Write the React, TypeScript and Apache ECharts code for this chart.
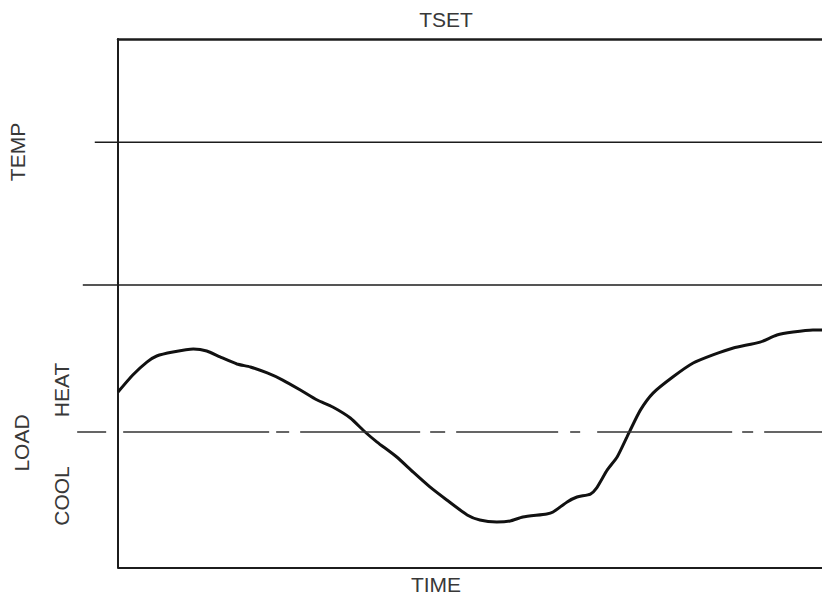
import React, { useEffect, useRef } from "react";
import * as echarts from "echarts";

// Load curve (time in % of span, load in % of full cooling; 0 = balance line)
const loadTime = [0, 2.1, 4.1, 5.5, 7.8, 10.7, 12.6, 14.5, 16.9, 18.8, 21.2, 23.4, 25.9, 28.3, 30.5, 33.0, 35.1, 36.8, 39.6, 41.9, 44.3, 46.7, 49.6, 51.4, 53.8, 55.7, 57.5, 60.9, 61.8, 63.8, 65.2, 67.1, 68.0, 69.5, 70.9, 72.3, 72.7, 74.2, 76.0, 78.8, 81.7, 84.5, 87.4, 91.2, 93.6, 95.9, 98.7, 100];
const loadValue = [29.4, 41.9, 51.4, 55.9, 58.8, 61.0, 59.6, 55.2, 50.0, 47.8, 43.4, 38.2, 30.9, 23.5, 18.4, 10.3, 0, -7.4, -18.4, -29.4, -40.4, -50.0, -61.0, -64.7, -66.1, -65.4, -62.5, -60.3, -58.8, -51.4, -47.8, -45.6, -41.1, -27.9, -18.4, -3.6, 0.7, 16.1, 28.6, 40.4, 50.7, 56.7, 61.8, 66.1, 71.3, 73.5, 75.0, 75.0];

// Temperature panel levels
const tsetLevel = 100;
const tempLevel = 58;
const tempTime = [-3.3, 100];
const tempBaseStart = -5;
const balanceStart = -5.8;
const loadFloor = -100;
const loadMax = 110;

const labels = { title: "TSET", time: "TIME", temp: "TEMP", load: "LOAD", heat: "HEAT", cool: "COOL" };

export default function App() {
  const ref = useRef<HTMLDivElement>(null);
  useEffect(() => {
    if (!ref.current) return;
    const chart = echarts.init(ref.current, null, { renderer: "svg" });
    const ink = "#1c1c1c";
    const font = "'Liberation Sans', Arial, sans-serif";
    const txt = (text: string, x: number, y: number, rot = 0) => ({
      type: "text",
      x,
      y,
      rotation: rot,
      style: { text, fill: "#383838", font: `21px ${font}`, align: "center", verticalAlign: "middle" },
    });
    const axisCommon = {
      type: "value",
      splitLine: { show: false },
      axisTick: { show: false },
      axisLabel: { show: false },
    };
    chart.setOption({
      animation: false,
      backgroundColor: "#fff",
      grid: [
        { left: 75.76, right: 0, top: 39, height: 246 },
        { left: 75.76, right: 0, top: 282.4, height: 285.6 },
      ],
      xAxis: [
        { ...axisCommon, gridIndex: 0, min: -6, max: 100, axisLine: { show: false } },
        { ...axisCommon, gridIndex: 1, min: -6, max: 100, axisLine: { show: false } },
      ],
      yAxis: [
        { ...axisCommon, gridIndex: 0, min: 0, max: 100, axisLine: { show: true, onZero: true, lineStyle: { color: ink, width: 2 } } },
        { ...axisCommon, gridIndex: 1, min: loadFloor, max: loadMax, axisLine: { show: true, onZero: true, lineStyle: { color: ink, width: 2 } } },
      ],
      series: [
        {
          type: "line",
          xAxisIndex: 0,
          yAxisIndex: 0,
          clip: false,
          symbol: "none",
          silent: true,
          lineStyle: { color: ink, width: 1.5 },
          data: tempTime.map((t) => [t, tempLevel]),
          markLine: {
            silent: true,
            symbol: "none",
            label: { show: false },
            data: [
              [
                { coord: [0, tsetLevel], lineStyle: { color: ink, width: 2.5, type: "solid", cap: "round" } },
                { coord: [100, tsetLevel] },
              ],
              [
                { coord: [tempBaseStart, 0], lineStyle: { color: ink, width: 1.5, type: "solid" } },
                { coord: [100, 0] },
              ],
            ],
          },
        },
        {
          type: "line",
          xAxisIndex: 1,
          yAxisIndex: 1,
          clip: false,
          symbol: "none",
          silent: true,
          smooth: 0.2,
          lineStyle: { color: "#111", width: 3 },
          data: loadTime.map((t, i) => [t, loadValue[i]]),
          markLine: {
            silent: true,
            symbol: "none",
            label: { show: false },
            data: [
              [
                {
                  coord: [balanceStart, 0],
                  lineStyle: { color: "#333", width: 1.5, type: [29, 17, 146, 7, 13, 11, 120, 10, 15, 11, 102, 12, 10, 17, 135, 10, 11, 11, 200] },
                },
                { coord: [100, 0] },
              ],
              [
                { coord: [0, loadFloor], lineStyle: { color: ink, width: 2, type: "solid" } },
                { coord: [100, loadFloor] },
              ],
            ],
          },
        },
      ],
      graphic: [
        txt(labels.title, 446, 19),
        txt(labels.time, 436, 584),
        txt(labels.temp, 17, 152, Math.PI / 2),
        txt(labels.load, 21, 443, Math.PI / 2),
        txt(labels.heat, 61, 390, Math.PI / 2),
        txt(labels.cool, 61, 496, Math.PI / 2),
      ],
    });
    return () => chart.dispose();
  }, []);
  return <div ref={ref} style={{ position: "fixed", left: 0, top: 0, width: 822, height: 601, background: "#fff" }} />;
}
